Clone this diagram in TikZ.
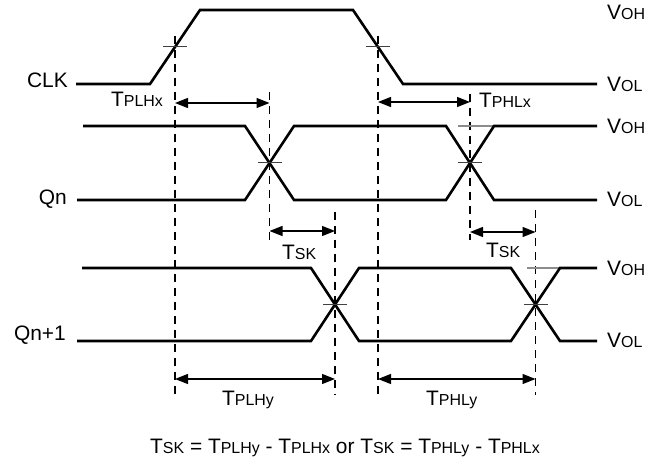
\documentclass[tikz,border=0pt]{standalone}
\usepackage{fontspec}
\setmainfont{Liberation Sans}
\usetikzlibrary{arrows.meta}
\newcommand{\sbs}[1]{{\fontsize{16}{16}\selectfont #1}}
\begin{document}
\begin{tikzpicture}[x=1bp,y=-1bp,
  sig/.style={line width=2.6bp, line join=miter, line cap=butt},
  dashv/.style={line width=1.2bp, dash pattern=on 8bp off 6bp},
  crossmark/.style={line width=1bp, draw=black!75},
  greytick/.style={line width=1.2bp, draw=black!45},
  dim/.style={line width=1.3bp, {Triangle[length=13bp,width=10bp]}-{Triangle[length=13bp,width=10bp]}},
  txt/.style={inner sep=0pt, font=\fontsize{21}{21}\selectfont},
]
\useasboundingbox (0,0) rectangle (668,466);

% crossing coordinates
\coordinate (c1) at (175,47);
\coordinate (c2) at (378,47);
\coordinate (q1) at (269.5,163);
\coordinate (q2) at (470,163);
\coordinate (r1) at (335,304.5);
\coordinate (r2) at (535.5,304.5);

% dashed verticals
\draw[dashv] (175,36) -- (175,395);
\draw[dashv] (378,36) -- (378,395);
\draw[dashv] (269.5,92) -- (269.5,246);
\draw[dashv] (470,94) -- (470,240);
\draw[dashv] (335,212) -- (335,395);
\draw[dashv] (535.5,210) -- (535.5,395);

% grey ticks
\draw[greytick] (458,126) -- (494,126);
\draw[greytick] (527,268) -- (560,268);

% CLK
\draw[sig] (76,84) -- (150,84) -- (200,10) -- (353,10) -- (403,84) -- (597,84);
% Qn
\draw[sig] (83,126) -- (245,126) -- (294,200) -- (446,200) -- (494,126) -- (597,126);
\draw[sig] (77,200) -- (245,200) -- (294,126) -- (446,126) -- (494,200) -- (597,200);
% Qn+1
\draw[sig] (82,268) -- (311,268) -- (359,341) -- (511,341) -- (560,268) -- (597,268);
\draw[sig] (77,341) -- (311,341) -- (359,268) -- (511,268) -- (560,341) -- (597,341);

% crossing marks
\foreach \c in {c1,c2,q1,q2,r1,r2}
  \draw[crossmark] ([xshift=-12bp]\c) -- ([xshift=12bp]\c);

% dimension arrows
\coordinate (a1l) at (175,103); \coordinate (a1r) at (269.5,103);
\coordinate (a2l) at (378,102); \coordinate (a2r) at (470,102);
\coordinate (a3l) at (269.5,231); \coordinate (a3r) at (335,231);
\coordinate (a4l) at (470,232); \coordinate (a4r) at (535.5,232);
\coordinate (a5l) at (175,379); \coordinate (a5r) at (335,379);
\coordinate (a6l) at (378,379); \coordinate (a6r) at (535.5,379);
\draw[dim] (a1l) -- (a1r);
\draw[dim] (a2l) -- (a2r);
\draw[dim] (a3l) -- (a3r);
\draw[dim] (a4l) -- (a4r);
\draw[dim] (a5l) -- (a5r);
\draw[dim] (a6l) -- (a6r);

% signal names
\node[txt, anchor=east] (clk) at (68,80) {CLK};
\node[txt, anchor=east] (qn) at (67,199.5) {Qn};
\node[txt, anchor=east] (qn1) at (66,335) {Qn+1};

% levels
\node[txt, anchor=west] (v1) at (607,12) {V\sbs{OH}};
\node[txt, anchor=west] (v2) at (607,84) {V\sbs{OL}};
\node[txt, anchor=west] (v3) at (607,126.5) {V\sbs{OH}};
\node[txt, anchor=west] (v4) at (607,199.5) {V\sbs{OL}};
\node[txt, anchor=west] (v5) at (607,268) {V\sbs{OH}};
\node[txt, anchor=west] (v6) at (607,340) {V\sbs{OL}};

% timing labels
\node[txt, anchor=base west] (l1) at (111,107) {T\sbs{PLHx}};
\node[txt, anchor=base west] (l2) at (479,108) {T\sbs{PHLx}};
\node[txt, anchor=base west] (l3) at (282,260) {T\sbs{SK}};
\node[txt, anchor=base west] (l4) at (486,258) {T\sbs{SK}};
\node[txt, anchor=base west] (l5) at (222,405) {T\sbs{PLHy}};
\node[txt, anchor=base west] (l6) at (426,405) {T\sbs{PHLy}};

% equation
\node[txt, anchor=base] (eq) at (345,453) {T\sbs{SK} = T\sbs{PLHy} - T\sbs{PLHx} or T\sbs{SK} = T\sbs{PHLy} - T\sbs{PHLx}};
\end{tikzpicture}
\end{document}
